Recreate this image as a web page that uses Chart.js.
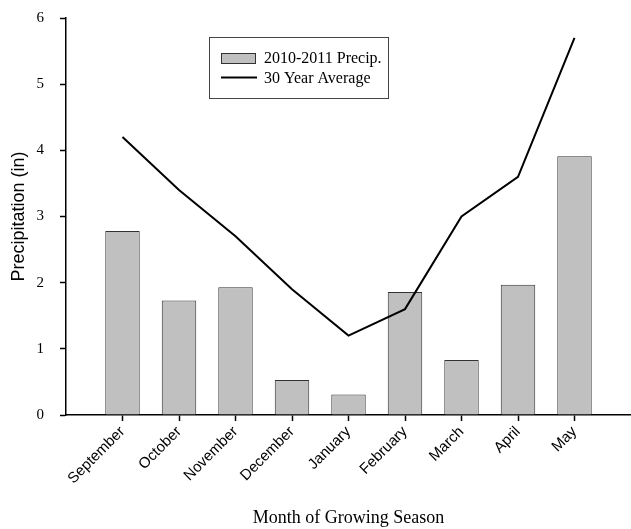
<!DOCTYPE html>
<html>
<head>
<meta charset="utf-8">
<script src="https://cdn.jsdelivr.net/npm/chart.js@4/dist/chart.umd.min.js"></script>
<style>
  html, body { margin: 0; padding: 0; background: #fff; }
  #wrap { width: 631px; height: 529px; position: relative; }
</style>
</head>
<body>
<div id="wrap"><canvas id="c" width="631" height="529"></canvas></div>
<script>
// Months of the growing season, in order
const months = ['September', 'October', 'November', 'December', 'January',
                'February', 'March', 'April', 'May'];
// Monthly precipitation for 2010-2011 (inches)
const precip2010 = [2.78, 1.73, 1.93, 0.53, 0.31, 1.86, 0.83, 1.97, 3.91];
// 30-year monthly average precipitation (inches)
const avg30yr = [4.2, 3.4, 2.7, 1.9, 1.2, 1.6, 3.0, 3.6, 5.7];
// Y axis tick values
const yTicks = [0, 1, 2, 3, 4, 5, 6];

const SERIF = "'Liberation Serif', 'Times New Roman', serif";
const SANS = "'Liberation Sans', Arial, sans-serif";

// Boxed legend drawn inside the plot area
const boxLegend = {
  id: 'boxLegend',
  afterDraw(chart) {
    const ctx = chart.ctx;
    const ds = chart.data.datasets;
    const bx = 209.5, by = 37.5, bw = 179, bh = 61;
    ctx.save();
    ctx.strokeStyle = '#444';
    ctx.lineWidth = 1;
    ctx.strokeRect(bx, by, bw, bh);

    // bar swatch
    ctx.fillStyle = ds[0].backgroundColor;
    ctx.fillRect(221, 53, 35, 11);
    ctx.strokeStyle = '#333';
    ctx.strokeRect(221.5, 53.5, 34, 10);

    // line swatch
    ctx.strokeStyle = ds[1].borderColor;
    ctx.lineWidth = 2;
    ctx.beginPath();
    ctx.moveTo(221, 77.5);
    ctx.lineTo(257, 77.5);
    ctx.stroke();

    ctx.fillStyle = '#000';
    ctx.font = '16px ' + SERIF;
    ctx.textBaseline = 'alphabetic';
    ctx.textAlign = 'left';
    ctx.fillText(ds[0].label, 264, 63);
    ctx.fillText(ds[1].label, 264, 82.5);
    ctx.restore();
  }
};

new Chart(document.getElementById('c'), {
  type: 'bar',
  data: {
    datasets: [
      {
        type: 'bar',
        label: '2010-2011 Precip.',
        data: months.map((m, i) => ({ x: i + 1, y: precip2010[i] })),
        backgroundColor: '#c0c0c0',
        borderColor: '#333',
        borderWidth: 1,
        barPercentage: 0.61,
        categoryPercentage: 1,
        order: 1
      },
      {
        type: 'line',
        label: '30 Year Average',
        data: months.map((m, i) => ({ x: i + 1, y: avg30yr[i] })),
        borderColor: '#000',
        borderWidth: 2,
        pointRadius: 0,
        tension: 0,
        fill: false,
        order: 0
      }
    ]
  },
  options: {
    responsive: false,
    animation: false,
    devicePixelRatio: 1,
    layout: { padding: { top: 18, right: 0, left: 0, bottom: 0 } },
    plugins: {
      legend: { display: false },
      tooltip: { enabled: false }
    },
    scales: {
      x: {
        type: 'linear',
        min: 0,
        max: 10,
        offset: false,
        afterBuildTicks: (s) => { s.ticks = months.map((m, i) => ({ value: i + 1 })); },
        afterFit: (s) => { s.height = 114; s.paddingLeft = 0; s.paddingRight = 0; },
        ticks: {
          autoSkip: false,
          minRotation: 45,
          maxRotation: 45,
          padding: 2,
          color: '#000',
          font: { family: SANS, size: 15 },
          callback: (v) => months[v - 1] || ''
        },
        grid: { offset: false, drawOnChartArea: false, drawTicks: true, tickLength: 6, color: '#000', tickWidth: 1.5 },
        border: { color: '#000', width: 1.5 },
        title: {
          display: true,
          text: 'Month of Growing Season',
          color: '#000',
          font: { family: SERIF, size: 18 },
          padding: { top: 0, bottom: 0 }
        }
      },
      y: {
        type: 'linear',
        min: 0,
        max: 6,
        afterBuildTicks: (s) => { s.ticks = yTicks.map(v => ({ value: v })); },
        afterFit: (s) => { s.width = 66; s.paddingTop = 0; s.paddingBottom = 0; },
        ticks: {
          padding: 16,
          color: '#000',
          font: { family: SERIF, size: 15 }
        },
        grid: { drawOnChartArea: false, drawTicks: true, tickLength: 6, color: '#000', tickWidth: 1.5 },
        border: { color: '#000', width: 1.5 },
        title: {
          display: true,
          text: 'Precipitation (in)',
          color: '#000',
          font: { family: SANS, size: 18 },
          padding: { top: 8, bottom: 0 }
        }
      }
    }
  },
  plugins: [boxLegend]
});
</script>
</body>
</html>
